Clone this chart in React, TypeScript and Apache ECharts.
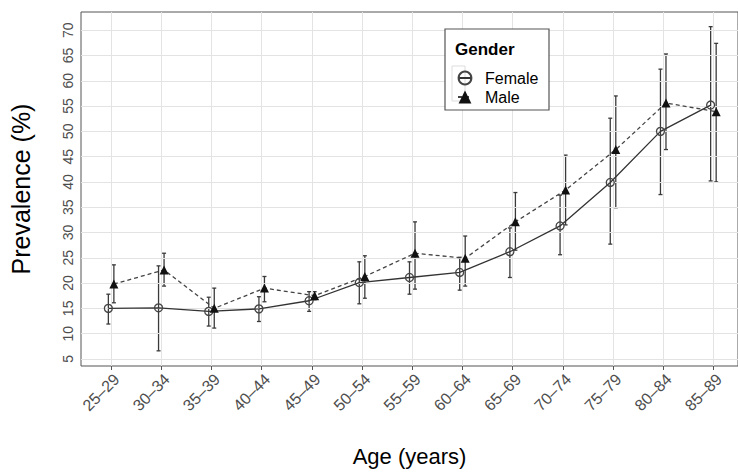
import React, { useEffect, useRef } from "react";
import * as echarts from "echarts";

const categories = ["25–29", "30–34", "35–39", "40–44", "45–49", "50–54", "55–59", "60–64", "65–69", "70–74", "75–79", "80–84", "85–89"];
const femaleValues = [15.0, 15.1, 14.4, 14.9, 16.5, 20.1, 21.1, 22.1, 26.2, 31.3, 39.9, 50.0, 55.2];
const femaleLow = [11.9, 6.6, 11.5, 12.4, 14.4, 15.9, 17.8, 18.6, 21.1, 25.6, 27.7, 37.5, 40.2];
const femaleHigh = [17.8, 23.4, 17.2, 17.3, 18.3, 24.2, 24.2, 25.1, 30.9, 37.4, 52.6, 62.3, 70.7];
const maleValues = [19.8, 22.6, 15.0, 19.0, 17.5, 21.3, 25.9, 24.9, 32.1, 38.4, 46.4, 55.6, 53.9];
const maleLow = [16.1, 19.4, 11.1, 16.3, 16.7, 17.0, 18.8, 19.4, 26.5, 31.5, 34.9, 46.4, 40.0];
const maleHigh = [23.6, 25.9, 19.0, 21.3, 18.3, 25.4, 32.1, 29.3, 37.9, 45.3, 57.0, 65.3, 67.4];
const yTicks = [5, 10, 15, 20, 25, 30, 35, 40, 45, 50, 55, 60, 65, 70];

const FONT = "Liberation Sans, Arial, sans-serif";
const DODGE = 0.055;

export default function App() {
  const ref = useRef<HTMLDivElement>(null);
  useEffect(() => {
    if (!ref.current) return;
    const chart = echarts.init(ref.current, undefined, { renderer: "svg" });
    const xIdx = categories.map((_, i) => i);
    const fPts = femaleValues.map((v, i) => [i - DODGE, v]);
    const mPts = maleValues.map((v, i) => [i + DODGE, v]);
    const fErr = femaleValues.map((_, i) => [i - DODGE, femaleLow[i], femaleHigh[i]]);
    const mErr = maleValues.map((_, i) => [i + DODGE, maleLow[i], maleHigh[i]]);

    const errRender = (params: any, api: any) => {
      const x = api.value(0);
      const top = api.coord([x, api.value(2)]);
      const bot = api.coord([x, api.value(1)]);
      const w = 2;
      const st = { stroke: "#3a3a3a", lineWidth: 1.3 };
      return {
        type: "group",
        children: [
          { type: "line", shape: { x1: top[0], y1: top[1], x2: bot[0], y2: bot[1] }, style: st },
          { type: "line", shape: { x1: top[0] - w, y1: top[1], x2: top[0] + w, y2: top[1] }, style: st },
          { type: "line", shape: { x1: bot[0] - w, y1: bot[1], x2: bot[0] + w, y2: bot[1] }, style: st },
        ],
      };
    };

    chart.setOption({
      animation: false,
      backgroundColor: "#ffffff",
      grid: {
        left: 72,
        top: 12,
        right: 0,
        bottom: 109,
        show: true,
        borderColor: "#555555",
        borderWidth: 1,
        backgroundColor: "#ffffff",
      },
      xAxis: {
        type: "value",
        min: -0.6,
        max: 12.49,
        name: "Age (years)",
        nameLocation: "middle",
        nameGap: 79,
        nameTextStyle: { fontSize: 22, color: "#000", fontFamily: FONT },
        axisLine: { show: false },
        splitLine: { show: false },
        axisTick: { show: true, customValues: xIdx, length: 4, lineStyle: { color: "#555" } },
        axisLabel: {
          customValues: xIdx,
          rotate: 45,
          fontSize: 16,
          color: "#4d4d4d",
          fontFamily: FONT,
          margin: 5,
          align: "right",
          verticalAlign: "top",
          formatter: (v: number) => categories[Math.round(v)] ?? "",
        },
      },
      yAxis: {
        type: "value",
        min: 3.6,
        max: 73.6,
        name: "Prevalence (%)",
        nameLocation: "middle",
        nameGap: 48,
        nameTextStyle: { fontSize: 25, color: "#000", fontFamily: FONT },
        axisLine: { show: false },
        splitLine: { show: false },
        axisTick: { show: true, customValues: yTicks, length: 4, lineStyle: { color: "#555" } },
        axisLabel: {
          customValues: yTicks,
          rotate: 90,
          fontSize: 14,
          color: "#4d4d4d",
          fontFamily: FONT,
          margin: 6,
        },
      },
      legend: {
        data: ["Female", "Male"],
        orient: "vertical",
        left: 452,
        top: 65,
        itemGap: 3,
        itemWidth: 14,
        itemHeight: 16,
        z: 200,
        textStyle: { fontSize: 16, lineHeight: 16, color: "#000", fontFamily: FONT, padding: [0, 0, 0, 8] },
      },
      graphic: [
        {
          type: "rect",
          z: 100,
          shape: { x: 445, y: 29, width: 104, height: 81 },
          style: { fill: "#ffffff", stroke: "#555555", lineWidth: 1.2 },
        },
        {
          type: "rect",
          z: 150,
          shape: { x: 452, y: 66, width: 13, height: 35 },
          style: { fill: "#ffffff", stroke: "#dddddd", lineWidth: 1 },
        },
        {
          type: "text",
          z: 200,
          x: 455,
          y: 41,
          style: { text: "Gender", font: `bold 17px ${FONT}`, fill: "#000" },
        },
      ],
      series: [
        {
          name: "grid",
          type: "line",
          data: fPts,
          symbol: "none",
          silent: true,
          z: 0,
          lineStyle: { opacity: 0 },
          markLine: {
            silent: true,
            symbol: ["none", "none"],
            label: { show: false },
            lineStyle: { color: "#e3e3e3", width: 1, type: "solid" },
            data: [
              ...xIdx.map((v) => ({ xAxis: v })),
              ...yTicks.map((v) => ({ yAxis: v })),
            ],
          },
        },
        {
          name: "Female",
          type: "line",
          data: fPts,
          z: 5,
          symbol: "circle",
          symbolSize: 8,
          lineStyle: { color: "#333333", width: 1.3, type: "solid" },
          itemStyle: { color: "rgba(255,255,255,0)", borderColor: "#444444", borderWidth: 1.3 },
        },
        {
          name: "Male",
          type: "line",
          data: mPts,
          z: 5,
          symbol: "triangle",
          symbolSize: 9,
          lineStyle: { color: "#444444", width: 1.3, type: [4, 3] },
          itemStyle: { color: "#111111" },
        },
        {
          name: "femaleErr",
          type: "custom",
          data: fErr,
          z: 4,
          renderItem: errRender,
          encode: { x: 0, y: [1, 2] },
          silent: true,
        },
        {
          name: "maleErr",
          type: "custom",
          data: mErr,
          z: 4,
          renderItem: errRender,
          encode: { x: 0, y: [1, 2] },
          silent: true,
        },
      ],
    });
    return () => chart.dispose();
  }, []);
  return (
    <div
      ref={ref}
      style={{ position: "absolute", left: 0, top: 0, width: 738, height: 475 }}
    />
  );
}
